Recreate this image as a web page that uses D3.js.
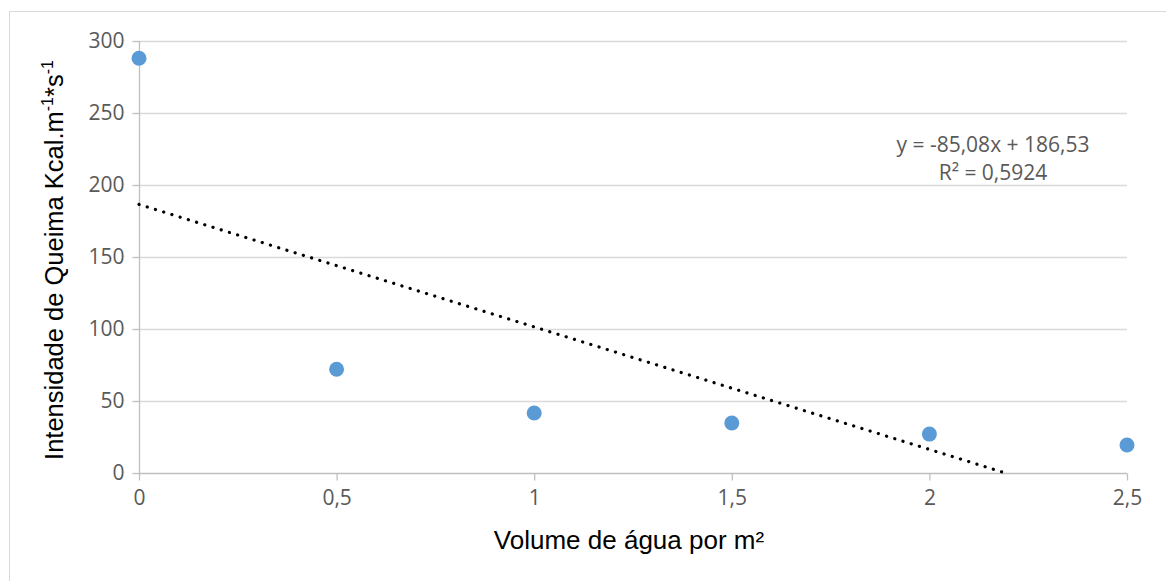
<!DOCTYPE html>
<html>
<head>
<meta charset="utf-8">
<script src="https://cdn.jsdelivr.net/npm/d3@7"></script>
<style>
  body { margin: 0; background: #fff; }
  svg { display: block; }
</style>
</head>
<body>
<svg id="chart" width="1166" height="581"></svg>
<script>
// valores
var volumes = [0, 0.5, 1, 1.5, 2, 2.5];
var intensidades = [288, 72, 41.7, 34.7, 27, 19.4];
var xTicks = [0, 0.5, 1, 1.5, 2, 2.5];
var yTicks = [0, 50, 100, 150, 200, 250, 300];
var trendSlope = -85.08;
var trendIntercept = 186.53;
var trendLabels = ["y = -85,08x + 186,53", "R² = 0,5924"];

var svg = d3.select("#chart");

// borda externa
svg.append("rect")
    .attr("x", 9.5).attr("y", 11.5)
    .attr("width", 1180).attr("height", 600)
    .attr("fill", "none").attr("stroke", "#d9d9d9").attr("stroke-width", 1);

var x = d3.scaleLinear().domain([0, 2.5]).range([139, 1127]);
var y = d3.scaleLinear().domain([0, 300]).range([473, 41]);

var fmt = function(d) { return String(d).replace(".", ","); };

// grade horizontal
svg.append("g").selectAll("line")
    .data(yTicks.filter(function(d) { return d > 0; }))
    .enter().append("line")
    .attr("x1", x(0)).attr("x2", x(2.5))
    .attr("y1", function(d) { return Math.round(y(d)) + 0.5; })
    .attr("y2", function(d) { return Math.round(y(d)) + 0.5; })
    .attr("stroke", "#d9d9d9").attr("stroke-width", 1.3);

// eixo y
var yAxis = svg.append("g")
    .attr("transform", "translate(" + (x(0) + 0.5) + ",0)")
    .call(d3.axisLeft(y).tickValues(yTicks).tickSize(7).tickPadding(8).tickFormat(fmt));

// eixo x
var xAxis = svg.append("g")
    .attr("transform", "translate(0," + (Math.round(y(0)) + 0.5) + ")")
    .call(d3.axisBottom(x).tickValues(xTicks).tickSize(7).tickPadding(10).tickFormat(fmt));

[yAxis, xAxis].forEach(function(ax) {
    ax.select(".domain").attr("stroke", "#bfbfbf").attr("stroke-width", 1.3);
    ax.selectAll(".tick line").attr("stroke", "#bfbfbf").attr("stroke-width", 1.3);
    ax.selectAll(".tick text")
        .attr("fill", "#595959")
        .style("font-family", "'Open Sans', sans-serif")
        .style("font-size", "21px");
});
yAxis.select(".domain").attr("d", "M0," + y(300) + "V" + y(0));
xAxis.select(".domain").attr("d", "M" + x(0) + ",0H" + x(2.5));

// linha de tendencia
var xEnd = -trendIntercept / trendSlope;
svg.append("line")
    .attr("x1", x(0)).attr("y1", y(trendIntercept))
    .attr("x2", x(xEnd)).attr("y2", y(0))
    .attr("stroke", "#000").attr("stroke-width", 3.2)
    .attr("stroke-linecap", "round")
    .attr("stroke-dasharray", "0.1,8.5");

// pontos
svg.append("g").selectAll("circle")
    .data(volumes)
    .enter().append("circle")
    .attr("cx", function(d) { return x(d); })
    .attr("cy", function(d, i) { return y(intensidades[i]); })
    .attr("r", 7.5)
    .attr("fill", "#5b9bd5");

// rotulo da equacao
svg.append("g").selectAll("text")
    .data(trendLabels)
    .enter().append("text")
    .attr("x", 993)
    .attr("y", function(d, i) { return 152 + i * 28; })
    .attr("text-anchor", "middle")
    .attr("fill", "#595959")
    .style("font-family", "'Open Sans', sans-serif")
    .style("font-size", "21px")
    .text(function(d) { return d; });

// titulos dos eixos
svg.append("text")
    .attr("x", 629)
    .attr("y", 549)
    .attr("text-anchor", "middle")
    .style("font-family", "'Liberation Sans', Arial, sans-serif")
    .style("font-size", "26px")
    .attr("fill", "#000")
    .text("Volume de água por m²");

var yt = svg.append("text")
    .attr("transform", "translate(63,260) rotate(-90)")
    .attr("text-anchor", "middle")
    .style("font-family", "'Liberation Sans', Arial, sans-serif")
    .style("font-size", "25.5px")
    .attr("fill", "#000");
yt.append("tspan").text("Intensidade de Queima Kcal.m");
yt.append("tspan").attr("dy", -10).style("font-size", "16px").text("-1");
yt.append("tspan").attr("dy", 10).text("*s");
yt.append("tspan").attr("dy", -10).style("font-size", "16px").text("-1");
</script>
</body>
</html>
